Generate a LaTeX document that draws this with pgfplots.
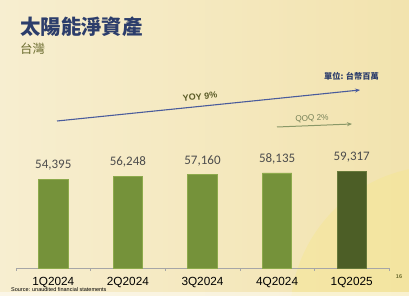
\documentclass[border=0pt]{standalone}
\usepackage{pgfplots}
\pgfplotsset{compat=1.18}
\usetikzlibrary{arrows.meta}
\usepackage{fontspec}
\setmainfont{Liberation Sans}
\newfontfamily\cjk{Noto Sans CJK TC}
\newfontfamily\carlito{Carlito}
\definecolor{bgA}{HTML}{F7EED0}
\definecolor{bgB}{HTML}{F2E3AE}
\definecolor{navy}{HTML}{2C3D6B}
\definecolor{olivetxt}{HTML}{6A6B2E}
\definecolor{barg}{HTML}{75923A}
\definecolor{bargedge}{HTML}{8DAA4C}
\definecolor{bard}{HTML}{4C5E26}
\definecolor{bardedge}{HTML}{66793A}
\definecolor{yoy}{HTML}{4A5C9C}
\definecolor{qoq}{HTML}{8A9868}
\begin{document}
\begin{tikzpicture}[x=1pt,y=1pt]
% background
\shade[left color=bgA,right color=bgB] (0,0) rectangle (409,296);
\begin{scope}
\clip (0,0) rectangle (409,296);
\fill[yellow!25!bgB,opacity=0.35] (440,-20) circle (150);
\fill[white,opacity=0.5] (0,0) rectangle (409,4);
\end{scope}
% titles
\node[anchor=west,inner sep=0,text=navy] at (20,269.5) {\cjk\bfseries\fontsize{20.4}{20.4}\selectfont 太陽能淨資產};
\node[anchor=west,inner sep=0,text=olivetxt] at (20,247) {\cjk\fontsize{12.5}{12.5}\selectfont 台灣};
\node[inner sep=0,text=navy] at (351.5,219.3) {\cjk\bfseries\fontsize{8.2}{8.2}\selectfont 單位: 台幣百萬};
% annotations
\draw[yoy,line width=1.1pt,-{Stealth[length=5pt,width=4pt]}] (57,175) -- (360,206);
\node[inner sep=0,text=olivetxt!85!black,rotate=5.8] at (200,199.5) {\bfseries\fontsize{9}{9}\selectfont YOY 9\%};
\draw[qoq,line width=1pt,-{Stealth[length=5pt,width=4pt]}] (277,169) -- (352,172);
\node[inner sep=0,text=qoq!85!black,rotate=3] at (312,177.5) {\fontsize{8.2}{8.2}\selectfont QOQ 2\%};
% footer
\node[anchor=west,inner sep=0] at (11,6) {\fontsize{5.5}{5.5}\selectfont Source: unaudited financial statements};
\node[inner sep=0,text=olivetxt] at (399,19) {\bfseries\fontsize{5.5}{5.5}\selectfont 16};
% chart
\begin{axis}[
  at={(16pt,28pt)}, anchor=south west,
  scale only axis, width=373pt, height=208pt,
  xmin=-0.5, xmax=4.5, ymin=0, ymax=127200,
  axis y line=none, axis x line*=bottom,
  x axis line style={draw=gray!70,line width=0.6pt,-},
  xtick={0,1,2,3,4},
  xticklabels={1Q2024,2Q2024,3Q2024,4Q2024,1Q2025},
  major tick length=0pt,
  xticklabel style={font=\fontsize{11.8}{11.8}\selectfont, text=black, yshift=-5.5pt},
  extra x ticks={-0.5,0.5,1.5,2.5,3.5,4.5},
  extra x tick labels={},
  extra x tick style={major tick length=3pt, tick align=outside, tick style={draw=gray!70,line width=0.6pt}},
  ybar, bar width=29.5pt, bar shift=0pt,
  nodes near coords={\pgfmathprintnumber[fixed,1000 sep={,},assume math mode=true]{\pgfplotspointmeta}},
  nodes near coords style={font=\carlito\fontsize{13}{13}\selectfont, text=black!70, anchor=south, inner sep=0pt, yshift=8pt},
  clip=false,
]
\addplot[fill=barg, draw=bargedge, line width=0.8pt] coordinates {(0,54395) (1,56248) (2,57160) (3,58135)};
\addplot[fill=bard, draw=bardedge, line width=0.8pt] coordinates {(4,59317)};
\end{axis}
\end{tikzpicture}
\end{document}
